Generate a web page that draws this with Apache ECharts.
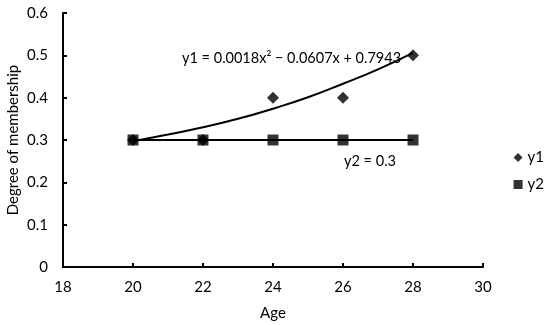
<!DOCTYPE html>
<html>
<head>
<meta charset="utf-8">
<script src="https://cdn.jsdelivr.net/npm/echarts@6/dist/echarts.min.js"></script>
<style>html,body{margin:0;padding:0;background:#fff}#c{width:550px;height:325px}</style>
</head>
<body>
<div id="c"></div>
<script>
var ages = [20, 22, 24, 26, 28];
var y1Values = [0.3, 0.3, 0.4, 0.4, 0.5];
var y2Values = [0.3, 0.3, 0.3, 0.3, 0.3];
// trendline points
var trendX = [20, 21, 22, 23, 24, 25, 26, 27, 28];
var trendY1 = [0.297, 0.313, 0.330, 0.350, 0.374, 0.401, 0.433, 0.467, 0.506];
var trendY2 = [0.3, 0.3, 0.3, 0.3, 0.3, 0.3, 0.3, 0.3, 0.3];
var xTicks = [18, 20, 22, 24, 26, 28, 30];
var yTicks = [0, 0.1, 0.2, 0.3, 0.4, 0.5, 0.6];
var eq1 = 'y1 = 0.0018x² − 0.0607x + 0.7943';
var eq2 = 'y2 = 0.3';

function zip(a, b) { return a.map(function (v, i) { return [v, b[i]]; }); }

var font = 'Lato, "Liberation Sans", sans-serif';
var chart = echarts.init(document.getElementById('c'), null, {renderer: 'canvas'});
chart.setOption({
  animation: false,
  textStyle: {fontFamily: font, color: '#000'},
  grid: {left: 63, right: 67, top: 13, bottom: 58, containLabel: false, outerBoundsMode: 'none'},
  legend: {
    orient: 'vertical', right: 1, top: 145, itemGap: 12, itemWidth: 9, itemHeight: 9,
    textStyle: {fontFamily: font, fontSize: 15, color: '#000'},
    data: [{name: 'y1', icon: 'diamond'}, {name: 'y2', icon: 'rect'}]
  },
  xAxis: {
    type: 'value', min: xTicks[0], max: xTicks[xTicks.length - 1], interval: 2,
    name: 'Age', nameLocation: 'middle', nameGap: 39, nameMoveOverlap: false,
    nameTextStyle: {fontFamily: font, fontSize: 15, color: '#000'},
    axisLine: {lineStyle: {color: '#000', width: 2}},
    axisTick: {inside: true, length: 4, lineStyle: {color: '#000', width: 2}},
    axisLabel: {fontFamily: font, fontSize: 15, color: '#000', margin: 13},
    splitLine: {show: false}
  },
  yAxis: {
    type: 'value', min: yTicks[0], max: yTicks[yTicks.length - 1], interval: 0.1,
    name: 'Degree of membership', nameLocation: 'middle', nameGap: 42, nameMoveOverlap: false,
    nameTextStyle: {fontFamily: font, fontSize: 15, color: '#000'},
    axisLine: {show: true, lineStyle: {color: '#000', width: 2}},
    axisTick: {show: true, inside: true, length: 4, lineStyle: {color: '#000', width: 2}},
    axisLabel: {fontFamily: font, fontSize: 15, color: '#000', margin: 15,
      formatter: function (v) { return String(Math.round(v * 10) / 10); }},
    splitLine: {show: false}
  },
  series: [
    {name: 'trend1', type: 'line', data: zip(trendX, trendY1), smooth: true, showSymbol: false,
      lineStyle: {color: '#000', width: 2}, z: 1, silent: true},
    {name: 'trend2', type: 'line', data: zip(trendX, trendY2), showSymbol: false,
      lineStyle: {color: '#000', width: 2}, z: 1, silent: true},
    {name: 'y1', type: 'scatter', data: zip(ages, y1Values), symbol: 'diamond', symbolSize: 12,
      itemStyle: {color: '#000'}, z: 3},
    {name: 'y2', type: 'scatter', data: zip(ages, y2Values), symbol: 'rect', symbolSize: 11,
      itemStyle: {color: '#000'}, z: 4}
  ],
  graphic: [
    {type: 'text', left: 182, top: 51, style: {text: eq1, font: '14.5px ' + font, fill: '#000'}},
    {type: 'text', left: 344, top: 154, style: {text: eq2, font: '14.5px ' + font, fill: '#000'}}
  ]
});
</script>
</body>
</html>
